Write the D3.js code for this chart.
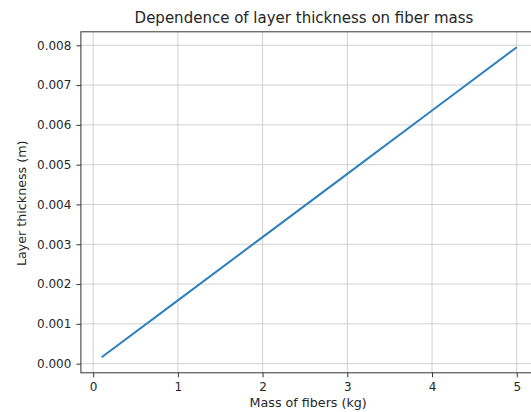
<!DOCTYPE html>
<html><head><meta charset="utf-8">
<script src="https://cdn.jsdelivr.net/npm/d3@7"></script>
<style>body{margin:0;background:#fff;} text{font-family:"DejaVu Sans",sans-serif;fill:#262626;}</style>
</head><body>
<svg id="c" width="531" height="412"></svg>
<script>
const mass = [0.1, 1, 2, 3, 4, 5];
const thickness = [0.000159, 0.00159, 0.00318, 0.00477, 0.00636, 0.00795];
const xTicks = [0, 1, 2, 3, 4, 5];
const yTicks = [0, 0.001, 0.002, 0.003, 0.004, 0.005, 0.006, 0.007, 0.008];
const title = "Dependence of layer thickness on fiber mass";
const xLabel = "Mass of fibers (kg)";
const yLabel = "Layer thickness (m)";

const svg = d3.select("#c");
const L = 80.9, R = 537.5, T = 31.8, B = 372.8;
const xr = d3.extent(mass), yr = d3.extent(thickness);
const xm = (xr[1]-xr[0])*0.05, ym = (yr[1]-yr[0])*0.05;
const x = d3.scaleLinear().domain([xr[0]-xm, xr[1]+xm]).range([L, R]);
const y = d3.scaleLinear().domain([yr[0]-ym, yr[1]+ym]).range([B, T]);

// grid
const g = svg.append("g");
g.selectAll(".gx").data(xTicks).join("line")
  .attr("x1", d=>x(d)).attr("x2", d=>x(d)).attr("y1", T).attr("y2", B)
  .attr("stroke", "#d0d0d0").attr("stroke-width", 1);
g.selectAll(".gy").data(yTicks).join("line")
  .attr("y1", d=>y(d)).attr("y2", d=>y(d)).attr("x1", L).attr("x2", R)
  .attr("stroke", "#d0d0d0").attr("stroke-width", 1);

// line
svg.append("path").datum(mass.map((m,i)=>[m, thickness[i]]))
  .attr("d", d3.line().x(d=>x(d[0])).y(d=>y(d[1])))
  .attr("fill", "none").attr("stroke", "#2c80bd").attr("stroke-width", 2);

// axes
const xAxis = d3.axisBottom(x).tickValues(xTicks).tickFormat(d3.format("d")).tickSize(4.5).tickPadding(5);
const yAxis = d3.axisLeft(y).tickValues(yTicks).tickFormat(d3.format(".3f")).tickSize(4.5).tickPadding(5);
const ax = svg.append("g").attr("transform", `translate(0,${B})`).call(xAxis);
const ay = svg.append("g").attr("transform", `translate(${L},0)`).call(yAxis);
[ax, ay].forEach(a => {
  a.select(".domain").remove();
  a.selectAll(".tick line").attr("stroke", "#333");
  a.selectAll(".tick text").attr("font-size", 12).attr("font-family", "DejaVu Sans").attr("fill", "#333");
});

// spines
svg.append("rect").attr("x", L).attr("y", T).attr("width", R-L).attr("height", B-T)
  .attr("fill", "none").attr("stroke", "#333").attr("stroke-width", 1);

svg.append("text").attr("x", 304).attr("y", 23).attr("text-anchor", "middle")
  .attr("font-size", 15).text(title);
svg.append("text").attr("x", (L+R)/2 - 1).attr("y", 407).attr("text-anchor", "middle")
  .attr("font-size", 12.7).text(xLabel);
svg.append("text").attr("transform", `translate(26,${(T+B)/2 + 1}) rotate(-90)`).attr("text-anchor", "middle")
  .attr("font-size", 12.7).text(yLabel);
</script>
</body></html>
